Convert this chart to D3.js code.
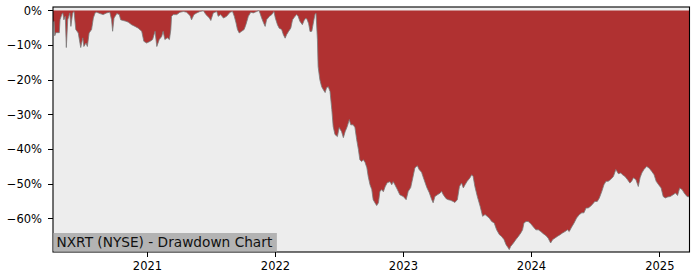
<!DOCTYPE html>
<html lang="en">
  <head>
    <meta charset="utf-8">
    <title>NXRT drawdown</title>
    <style>
      body {margin: 0; background: #fff;}
      svg {display: block;}
      text {font-family: "DejaVu Sans", sans-serif;}
      .axis path {display: none;}
      .axis line {stroke: #000; stroke-width: 1; shape-rendering: crispEdges;}
      .axis text {font-size: 11.5px; fill: #000;}
    </style>
    <script src="https://d3js.org/d3.v7.min.js"></script>
  </head>
  <body>
    <script type="text/javascript">
      // drawdown from running peak, in percent
      var dates = [
        "2020-04-08","2020-04-11","2020-04-13","2020-04-16","2020-04-26","2020-04-28","2020-05-03","2020-05-06",
        "2020-05-09","2020-05-13","2020-05-16","2020-05-20","2020-05-26","2020-05-29","2020-06-03","2020-06-07",
        "2020-06-12","2020-06-19","2020-06-26","2020-07-02","2020-07-05","2020-07-11","2020-07-15","2020-07-20",
        "2020-07-27","2020-08-01","2020-08-06","2020-08-10","2020-08-20","2020-08-29","2020-09-08","2020-09-17",
        "2020-09-22","2020-09-25","2020-09-29","2020-10-07","2020-10-14","2020-10-18","2020-10-25","2020-11-02",
        "2020-11-09","2020-11-18","2020-11-28","2020-12-07","2020-12-17","2020-12-23","2020-12-31",
        "2021-01-10","2021-01-17","2021-01-24","2021-01-29","2021-02-05","2021-02-12","2021-02-16","2021-02-21",
        "2021-02-28","2021-03-06","2021-03-10","2021-03-12","2021-03-17","2021-03-27","2021-04-05","2021-04-15",
        "2021-04-24","2021-05-04","2021-05-08","2021-05-15","2021-05-23","2021-06-01","2021-06-11","2021-06-18",
        "2021-06-28","2021-07-02","2021-07-09","2021-07-19","2021-07-23","2021-07-30","2021-08-07","2021-08-16",
        "2021-08-26","2021-09-02","2021-09-07","2021-09-12","2021-09-16","2021-09-21","2021-09-28","2021-10-05",
        "2021-10-10","2021-10-17","2021-10-24","2021-10-31","2021-11-10","2021-11-16","2021-11-19","2021-11-24",
        "2021-11-29","2021-12-04","2021-12-08","2021-12-16","2021-12-23","2021-12-29",
        "2022-01-02","2022-01-08","2022-01-13","2022-01-20","2022-01-25","2022-01-30","2022-02-03","2022-02-09",
        "2022-02-15","2022-02-20","2022-02-27","2022-03-04","2022-03-08","2022-03-13","2022-03-20","2022-03-25",
        "2022-03-30","2022-04-03","2022-04-07","2022-04-11","2022-04-16","2022-04-22","2022-04-25","2022-04-28",
        "2022-05-02","2022-05-04","2022-05-09","2022-05-14","2022-05-19","2022-05-24","2022-05-28","2022-06-02",
        "2022-06-07","2022-06-12","2022-06-16","2022-06-21","2022-06-28","2022-07-03","2022-07-10","2022-07-15",
        "2022-07-20","2022-07-26","2022-08-01","2022-08-05","2022-08-12","2022-08-17","2022-08-22","2022-08-27",
        "2022-08-31","2022-09-05","2022-09-10","2022-09-15","2022-09-20","2022-09-24","2022-09-29","2022-10-04",
        "2022-10-08","2022-10-13","2022-10-18","2022-10-23","2022-10-27","2022-11-01","2022-11-06","2022-11-11",
        "2022-11-17","2022-11-25","2022-11-30","2022-12-04","2022-12-09","2022-12-16","2022-12-23",
        "2023-01-02","2023-01-10","2023-01-16","2023-01-23","2023-01-29","2023-02-04","2023-02-11","2023-02-16",
        "2023-02-23","2023-03-02","2023-03-10","2023-03-17","2023-03-24","2023-03-28","2023-04-02","2023-04-09",
        "2023-04-17","2023-04-21","2023-04-26","2023-05-04","2023-05-10","2023-05-17","2023-05-24","2023-05-29",
        "2023-06-05","2023-06-11","2023-06-17","2023-06-22","2023-06-27","2023-07-03","2023-07-11","2023-07-16",
        "2023-07-20","2023-07-25","2023-08-01","2023-08-09","2023-08-16","2023-08-23","2023-08-29","2023-09-04",
        "2023-09-11","2023-09-18","2023-09-25","2023-10-03","2023-10-09","2023-10-16","2023-10-22","2023-10-28",
        "2023-10-31","2023-11-04","2023-11-12","2023-11-19","2023-11-26","2023-12-03","2023-12-08","2023-12-12",
        "2023-12-18","2023-12-24","2023-12-31",
        "2024-01-08","2024-01-15","2024-01-22","2024-01-29","2024-02-05","2024-02-13","2024-02-19","2024-02-26",
        "2024-03-03","2024-03-09","2024-03-16","2024-03-24","2024-03-31","2024-04-07","2024-04-14","2024-04-19",
        "2024-04-26","2024-05-03","2024-05-10","2024-05-18","2024-05-25","2024-05-31","2024-06-06","2024-06-12",
        "2024-06-19","2024-06-27","2024-07-01","2024-07-08","2024-07-14","2024-07-21","2024-07-27","2024-08-02",
        "2024-08-08","2024-08-15","2024-08-23","2024-08-30","2024-09-06","2024-09-13","2024-09-18","2024-09-25",
        "2024-10-02","2024-10-09","2024-10-14","2024-10-19","2024-10-26","2024-11-02","2024-11-07","2024-11-12",
        "2024-11-18","2024-11-26","2024-12-03","2024-12-10","2024-12-17","2024-12-23","2024-12-30",
        "2025-01-06","2025-01-12","2025-01-18","2025-01-25","2025-02-01","2025-02-09","2025-02-16","2025-02-22",
        "2025-02-28","2025-03-07","2025-03-13","2025-03-21","2025-03-28"
      ];
      var drawdown = [
        -3.1,-3.1,-7.3,-6.4,-6.4,-2.7,-1.2,-0.7,
        -2.7,-1.7,-10.7,-2.7,-0.7,-4.6,-0.7,-0.3,
        -5.5,-6.5,-10.7,-7.9,-10.4,-9.4,-10.4,-6.5,
        -5.5,-2.2,-0.7,-0.5,-0.9,-1.2,-0.7,-0.5,
        -2.7,-6.0,-2.2,-0.9,-1.2,-2.7,-2.9,-3.1,
        -3.4,-4.1,-4.6,-5.1,-6.0,-8.9,-9.4,
        -8.9,-8.4,-6.0,-10.4,-8.4,-7.5,-6.0,-8.4,
        -7.9,-8.4,-5.5,-1.7,-1.2,-1.2,-0.5,-0.3,
        -0.5,-1.5,-2.7,-1.2,-0.7,-0.3,-0.1,-1.2,
        -2.2,-2.9,-0.7,-0.3,-1.7,-1.2,-2.2,-1.7,
        -0.5,-0.3,-1.7,-3.6,-5.5,-6.5,-6.0,-5.5,
        -4.1,-1.7,-0.5,-0.7,-0.3,0,-0.7,-2.2,
        -3.5,-4.6,-2.7,-1.7,-1.2,-0.3,
        -2.2,-4.1,-5.1,-5.5,-7.0,-8.0,-7.0,-6.0,
        -5.1,-2.7,-1.7,-1.2,-1.7,-3.1,-4.1,-2.9,
        -2.2,-2.7,-3.8,-6.1,-6.0,-2.7,-1.2,-0.8,
        -8.4,-16.2,-20.0,-22.0,-22.9,-23.7,-22.3,-22.0,
        -23.4,-28.6,-33.5,-35.8,-36.4,-33.8,-35.0,-36.7,
        -35.0,-33.5,-31.5,-33.0,-33.0,-33.8,-37.3,-40.2,
        -43.1,-43.6,-43.1,-43.9,-45.4,-48.0,-50.3,-51.7,
        -54.6,-55.5,-56.3,-55.5,-52.3,-51.7,-52.3,-50.9,
        -49.7,-49.4,-50.3,-49.4,-50.3,-51.7,-53.2,
        -53.7,-54.6,-52.2,-51.1,-48.3,-45.4,-44.8,-45.9,
        -46.7,-48.8,-51.1,-52.6,-54.6,-55.5,-53.7,-53.2,
        -52.7,-52.2,-53.2,-54.3,-54.6,-54.8,-55.1,-55.4,
        -54.6,-50.8,-49.8,-51.2,-50.3,-49.3,-48.3,-47.4,
        -47.9,-50.8,-53.7,-56.5,-59.4,-58.9,-59.4,-59.9,
        -60.9,-61.3,-63.3,-64.7,-65.2,-66.1,-67.6,-68.5,
        -69.0,-68.1,-67.1,-66.1,-65.2,-64.2,-63.3,-61.3,
        -60.9,-60.9,-61.5,
        -62.5,-63.3,-63.3,-63.8,-64.4,-65.0,-65.7,-67.1,
        -66.1,-65.7,-65.2,-64.7,-64.2,-63.8,-63.3,-63.8,
        -62.5,-61.3,-59.9,-58.9,-58.4,-58.4,-57.0,-57.0,
        -56.5,-55.6,-55.1,-55.1,-54.1,-52.2,-50.3,-49.3,
        -49.3,-48.8,-47.9,-45.9,-47.1,-46.9,-47.4,-47.9,
        -48.8,-49.8,-49.3,-48.3,-48.8,-50.8,-48.3,-46.9,
        -45.9,-45.0,-45.5,-46.4,-47.4,-49.3,-50.3,
        -51.2,-53.7,-54.1,-53.8,-53.7,-53.2,-52.7,-53.4,
        -51.2,-51.7,-52.7,-53.7,-53.8
      ];
      var yearTicks = ["2021", "2022", "2023", "2024", "2025"];
      var pctTicks = [0, -10, -20, -30, -40, -50, -60];
      var chartTitle = "NXRT (NYSE) - Drawdown Chart";

      var width = 700, height = 280;
      var plotLeft = 53, plotRight = 689.5, plotTop = 7, plotBottom = 252;

      var parse = d3.timeParse("%Y-%m-%d");
      var data = dates.map(function(d, i) {
        return {date: parse(d), value: drawdown[i] / 100};
      });

      var svg = d3.select("body").append("svg")
        .attr("width", width)
        .attr("height", height);

      var x = d3.scaleTime()
        .domain(d3.extent(data, function(d) { return d.date; }))
        .range([plotLeft, plotRight]);

      var y = d3.scaleLinear()
        .domain([-0.697, 0.01])
        .range([plotBottom, plotTop]);

      // plot background
      svg.append("rect")
        .attr("x", plotLeft)
        .attr("y", plotTop)
        .attr("width", plotRight - plotLeft)
        .attr("height", plotBottom - plotTop)
        .attr("fill", "#ededed");

      // fill between zero and the drawdown
      var area = d3.area()
        .x(function(d) { return x(d.date); })
        .y0(y(0))
        .y1(function(d) { return y(d.value); });

      svg.append("path")
        .datum(data)
        .attr("d", area)
        .attr("fill", "#b03131");

      var line = d3.line()
        .x(function(d) { return x(d.date); })
        .y(function(d) { return y(d.value); });

      svg.append("path")
        .datum(data)
        .attr("d", line)
        .attr("fill", "none")
        .attr("stroke", "#7a7a7a")
        .attr("stroke-width", 0.8);

      // axes
      svg.append("g")
        .attr("class", "axis")
        .attr("transform", "translate(0," + plotBottom + ")")
        .call(d3.axisBottom(x)
          .tickValues(yearTicks.map(function(t) { return parse(t + "-01-01"); }))
          .tickFormat(d3.timeFormat("%Y"))
          .tickSize(5)
          .tickPadding(4.5));

      svg.append("g")
        .attr("class", "axis")
        .attr("transform", "translate(" + plotLeft + ",0)")
        .call(d3.axisLeft(y)
          .tickValues(pctTicks.map(function(t) { return t / 100; }))
          .tickFormat(d3.format(".0%"))
          .tickSize(5)
          .tickPadding(6));

      // frame
      svg.append("rect")
        .attr("x", plotLeft)
        .attr("y", plotTop)
        .attr("width", plotRight - plotLeft)
        .attr("height", plotBottom - plotTop)
        .attr("fill", "none")
        .attr("stroke", "#000")
        .attr("stroke-width", 1.1);

      // title label in the lower left corner
      var label = svg.append("g");
      var labelBox = label.append("rect").attr("fill", "#b3b3b3");
      var labelText = label.append("text")
        .attr("x", plotLeft + 3.5)
        .attr("y", plotBottom - 4.8)
        .attr("font-size", "13.7px")
        .attr("fill", "#111")
        .text(chartTitle);
      var bb = labelText.node().getBBox();
      labelBox
        .attr("x", plotLeft + 0.5)
        .attr("y", plotBottom - 19)
        .attr("width", bb.width + 7)
        .attr("height", 18.5);
    </script>
  </body>
</html>
